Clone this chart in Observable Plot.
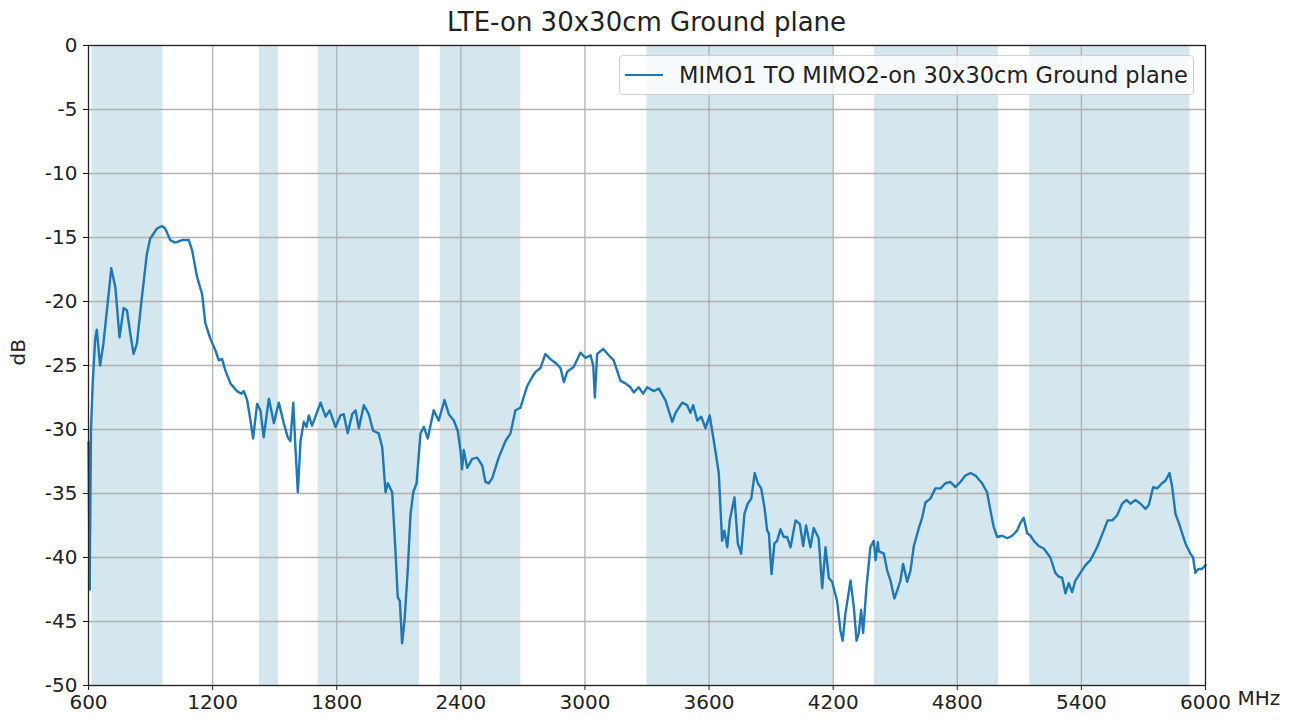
<!DOCTYPE html>
<html>
<head>
<meta charset="utf-8">
<script src="https://cdn.jsdelivr.net/npm/d3@7"></script>
<script src="https://cdn.jsdelivr.net/npm/@observablehq/plot@0.6"></script>
<style>
  html, body { margin: 0; padding: 0; background: #fff; }
  body { width: 1305px; height: 724px; position: relative; font-family: "DejaVu Sans", sans-serif; overflow: hidden; }
  #title { position: absolute; left: 0; top: 6px; box-sizing: border-box; width: 1305px; padding: 0 100px 0 88px; text-align: center; font-size: 26px; color: #222; line-height: 32px; }
  #chart { position: absolute; left: 0; top: 0; }
  #legend { position: absolute; left: 619px; top: 55px; width: 575px; height: 40px; box-sizing: border-box;
    border: 1px solid #d0d0d0; border-radius: 4px; background: rgba(255,255,255,0.8);
    display: flex; align-items: center; font-size: 22.5px; color: #222; white-space: nowrap; }
  #legend .swatch { display: inline-block; width: 38px; height: 0; border-top: 2.4px solid #1f77b4; margin: 0 16px 0 5px; }
</style>
</head>
<body>
<div id="chart"></div>
<div id="title">LTE-on 30x30cm Ground plane</div>
<div id="legend"><span class="swatch"></span><span>MIMO1 TO MIMO2-on 30x30cm Ground plane</span></div>
<script>
// Series: frequency (MHz) and coupling (dB)
const freq = [600,606,612,620,632,640,656,672,700,710,730,750,770,786,802,818,834,858,882,898,931,955,971,995,1019,1053,1085,1101,1125,1149,1165,1189,1213,1230,1246,1262,1286,1318,1339,
1351,1367,1383,1396,1415,1431,1447,1472,1496,1520,1544,1563,1576,1590,1601,1612,1625,1641,1654,1665,1681,1697,1722,1746,1766,1794,1818,1834,1853,1875,1891,1907,1931,1955,1976,2003,2020,2036,2047,2068,2084,2095,2105,2116,2128,2144,2157,2170,2186,2205,2221,2240,2269,
2293,2321,2342,2366,2385,2398,2406,2414,2431,2455,2479,2503,2519,2535,2552,2583,2616,2640,2664,2688,2721,2745,2761,2785,2809,2833,2858,2882,2898,2914,2946,2978,3003,3027,3040,3048,3059,3088,3115,3139,3172,3196,3220,3236,3260,3281,3301,3333,3357,
3389,3422,3438,3470,3494,3510,3523,3543,3562,3583,3603,3623,3647,3663,3674,3688,3700,3723,3739,3755,3771,3787,3804,3821,3836,3852,3868,3881,3889,3902,3916,3929,3945,3961,3978,3994,4018,4039,4055,4069,4090,4106,4130,4147,4163,4179,4195,4219,4235,4246,4259,4284,4300,4313,4324,4335,4345,4361,4380,4396,4405,4416,
4420,4445,4461,4477,4496,4509,4525,4538,4558,4574,4590,4614,4630,4646,4670,4694,4719,4743,4767,4791,4815,4839,4864,4888,4920,4944,4960,4976,4993,5017,5041,5065,5089,5105,5121,5138,5154,5170,5194,5218,5250,5274,5291,5307,5323,5339,5355,5371,5395,5420,5444,5476,5508,5527,5549,5573,5597,5618,5637,5661,5686,5710,5726,5747,5766,5790,5806,5826,5839,5855,5871,5887,5903,5927,5940,5951,5966,5983,6000];
const dB = [-31,-42.5,-30,-26.5,-23,-22.2,-25,-23.3,-19,-17.4,-18.9,-22.8,-20.5,-20.7,-22.5,-24.1,-23.3,-19.7,-16.3,-15.1,-14.3,-14.1,-14.3,-15.2,-15.4,-15.2,-15.2,-16.0,-18.1,-19.4,-21.7,-22.9,-23.8,-24.6,-24.5,-25.4,-26.4,-27.0,-27.2,
-27.0,-27.7,-29.3,-30.7,-28.0,-28.5,-30.6,-27.6,-29.5,-27.9,-29.5,-30.6,-30.9,-27.9,-31.6,-34.9,-30.9,-29.4,-29.8,-28.9,-29.7,-29.0,-27.9,-29.0,-28.5,-29.8,-28.9,-28.8,-30.3,-28.8,-28.5,-29.9,-28.1,-28.8,-30.1,-30.3,-31.4,-34.9,-34.2,-34.9,-39.5,-43.1,-43.4,-46.7,-44.9,-40.8,-36.6,-34.9,-34.2,-30.3,-29.8,-30.7,-28.5,
-29.3,-27.7,-28.8,-29.3,-30.1,-31.6,-33.1,-31.6,-33.0,-32.3,-32.2,-32.8,-34.1,-34.2,-33.8,-32.2,-30.9,-30.3,-28.5,-28.3,-26.6,-25.9,-25.5,-25.2,-24.1,-24.5,-24.8,-25.2,-26.3,-25.5,-25.1,-24.0,-24.4,-24.2,-25.0,-27.5,-24.1,-23.7,-24.2,-24.6,-26.2,-26.4,-26.7,-27.1,-26.7,-27.2,-26.7,-27.0,-26.8,
-27.7,-29.4,-28.7,-27.9,-28.1,-28.7,-28.1,-29.3,-29.0,-29.9,-28.9,-30.9,-33.4,-38.7,-37.9,-39.2,-37.1,-35.3,-38.9,-39.7,-36.6,-35.8,-35.4,-33.4,-34.2,-34.6,-36.1,-37.9,-38.1,-41.3,-38.9,-38.7,-37.8,-38.4,-38.4,-39.2,-37.1,-37.4,-39.1,-37.5,-39.2,-37.7,-38.5,-42.4,-39.2,-41.6,-41.9,-43.4,-45.7,-46.5,-44.4,-41.8,-43.9,-46.5,-45.9,-44.1,-45.9,-42.3,-39.2,-38.7,-40.2,-38.8,
-39.5,-39.7,-41.0,-41.8,-43.2,-42.6,-41.8,-40.5,-41.9,-41.0,-39.1,-37.7,-36.9,-35.7,-35.4,-34.6,-34.6,-34.2,-34.1,-34.5,-34.1,-33.6,-33.4,-33.6,-34.2,-34.9,-36.3,-37.6,-38.4,-38.3,-38.5,-38.3,-37.9,-37.3,-36.9,-38.1,-38.3,-38.7,-39.1,-39.3,-40.0,-41.2,-41.5,-41.6,-42.8,-42.0,-42.7,-41.8,-41.2,-40.6,-40.2,-39.2,-37.9,-37.1,-37.1,-36.7,-35.8,-35.5,-35.8,-35.5,-35.8,-36.2,-35.9,-34.5,-34.6,-34.2,-34.0,-33.4,-34.5,-36.6,-37.3,-38.1,-38.9,-39.7,-40.0,-41.2,-40.9,-40.9,-40.6];

// Shaded LTE bands (MHz)
const bandStart = [617, 1427, 1710, 2300, 3300, 4400, 5150];
const bandEnd   = [960, 1518, 2200, 2690, 4200, 5000, 5925];

// Axis ticks
const xTicks = [600, 1200, 1800, 2400, 3000, 3600, 4200, 4800, 5400, 6000];
const yTicks = [0, -5, -10, -15, -20, -25, -30, -35, -40, -45, -50];

const series = freq.map((f, i) => ({f, v: dB[i]}));
const bands = bandStart.map((s, i) => ({s, e: bandEnd[i]}));

const chart = Plot.plot({
  width: 1305,
  height: 724,
  marginTop: 45,
  marginBottom: 39,
  marginLeft: 88,
  marginRight: 100,
  style: {fontFamily: "DejaVu Sans, sans-serif", fontSize: "20px", color: "#222", background: "#fff", overflow: "visible"},
  x: {domain: [600, 6000]},
  y: {domain: [-50, 0]},
  marks: [
    Plot.rect(bands, {x1: "s", x2: "e", fill: "#d4e7ee"}),
    Plot.gridX(xTicks, {stroke: "#b0b0b0", strokeOpacity: 1, strokeWidth: 1.3}),
    Plot.gridY(yTicks, {stroke: "#b0b0b0", strokeOpacity: 1, strokeWidth: 1.3}),
    Plot.line(series, {x: "f", y: "v", stroke: "#1f77b4", strokeWidth: 2.4}),
    Plot.frame({stroke: "#222", strokeWidth: 1.2}),
    Plot.axisX(xTicks, {tickSize: 5, tickPadding: 4, tickFormat: d => String(d), label: null, fontSize: 20}),
    Plot.axisY(yTicks, {tickSize: 5, tickPadding: 6, tickFormat: d => String(d), label: null, fontSize: 20}),
    Plot.text(["MHz"], {frameAnchor: "bottom-right", textAnchor: "start", dx: 32, dy: 19, fontSize: 20}),
    Plot.text(["dB"], {frameAnchor: "left", rotate: -90, dx: -70, fontSize: 20})
  ]
});
document.getElementById("chart").appendChild(chart);
</script>
</body>
</html>
